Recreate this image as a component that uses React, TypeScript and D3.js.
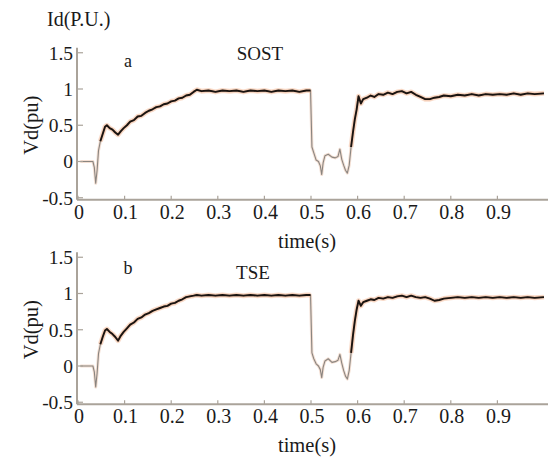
import React from "react";
import * as d3 from "d3";

const W = 548;
const H = 463;

const xTicks = [0, 0.1, 0.2, 0.3, 0.4, 0.5, 0.6, 0.7, 0.8, 0.9];
const xTickLabels = ["0", "0.1", "0.2", "0.3", "0.4", "0.5", "0.6", "0.7", "0.8", "0.9"];
const yTicks = [1.5, 1, 0.5, 0, -0.5];
const yTickLabels = ["1.5", "1", "0.5", "0", "-0.5"];

const timeA = [0.005, 0.032, 0.035, 0.038, 0.041, 0.044, 0.048, 0.053, 0.058, 0.062, 0.068, 0.074, 0.08, 0.086, 0.092, 0.098, 0.105, 0.112, 0.12, 0.128, 0.136, 0.144, 0.152, 0.16, 0.168, 0.176, 0.184, 0.192, 0.2, 0.208, 0.216, 0.224, 0.232, 0.24, 0.248, 0.255, 0.265, 0.28, 0.295, 0.31, 0.325, 0.34, 0.355, 0.37, 0.385, 0.4, 0.415, 0.43, 0.445, 0.46, 0.475, 0.49, 0.499, 0.502, 0.506, 0.511, 0.516, 0.52, 0.523, 0.526, 0.53, 0.537, 0.545, 0.552, 0.558, 0.562, 0.566, 0.57, 0.574, 0.578, 0.582, 0.586, 0.59, 0.594, 0.598, 0.602, 0.607, 0.612, 0.62, 0.628, 0.636, 0.645, 0.655, 0.665, 0.675, 0.685, 0.695, 0.705, 0.715, 0.725, 0.735, 0.745, 0.755, 0.765, 0.775, 0.785, 0.8, 0.815, 0.83, 0.845, 0.86, 0.875, 0.89, 0.905, 0.92, 0.935, 0.95, 0.965, 0.98, 1.0];
const vdSOST = [0, 0, -0.08, -0.3, -0.12, 0.15, 0.28, 0.38, 0.48, 0.5, 0.46, 0.44, 0.4, 0.37, 0.42, 0.46, 0.5, 0.55, 0.57, 0.62, 0.63, 0.67, 0.7, 0.72, 0.75, 0.76, 0.79, 0.8, 0.83, 0.84, 0.87, 0.88, 0.91, 0.92, 0.96, 0.99, 0.97, 0.98, 0.96, 0.98, 0.97, 0.98, 0.96, 0.98, 0.97, 0.98, 0.96, 0.98, 0.97, 0.98, 0.96, 0.98, 0.98, 0.2, 0.12, 0.02, 0.0, -0.06, -0.18, -0.02, 0.08, 0.1, 0.06, 0.05, 0.07, 0.17, 0.03, -0.05, -0.12, -0.16, -0.05, 0.2, 0.4, 0.58, 0.72, 0.9, 0.8, 0.86, 0.88, 0.91, 0.89, 0.93, 0.92, 0.95, 0.93, 0.96, 0.97, 0.94, 0.96, 0.92, 0.89, 0.86, 0.86, 0.88, 0.89, 0.91, 0.9, 0.92, 0.91, 0.93, 0.91, 0.93, 0.92, 0.93, 0.92, 0.94, 0.92, 0.94, 0.93, 0.94];
const vdTSE = [0, 0, -0.08, -0.29, -0.1, 0.17, 0.3, 0.4, 0.49, 0.51, 0.47, 0.44, 0.4, 0.35, 0.42, 0.47, 0.52, 0.57, 0.6, 0.65, 0.67, 0.71, 0.73, 0.76, 0.78, 0.8, 0.82, 0.83, 0.86, 0.87, 0.9, 0.92, 0.95, 0.96, 0.97, 0.98, 0.97, 0.98, 0.97, 0.98, 0.97, 0.98, 0.97, 0.98, 0.97, 0.98, 0.97, 0.98, 0.97, 0.98, 0.97, 0.98, 0.98, 0.18, 0.1, 0.03, 0.0, -0.05, -0.16, -0.02, 0.07, 0.1, 0.05, 0.06, 0.08, 0.16, 0.04, -0.06, -0.14, -0.18, -0.06, 0.18, 0.42, 0.62, 0.78, 0.9, 0.83, 0.88, 0.9, 0.92, 0.91, 0.94, 0.93, 0.95, 0.94, 0.96, 0.97, 0.95, 0.97, 0.95, 0.94, 0.95, 0.93, 0.9, 0.91, 0.93, 0.94, 0.95, 0.94, 0.95, 0.94, 0.95, 0.94, 0.95, 0.94, 0.95, 0.94, 0.95, 0.94, 0.95];

const panels = [
  { letter: "a", title: "SOST", values: vdSOST, zeroY: 161.5, letterY: 67, titleX: 260, titleY: 60 },
  { letter: "b", title: "TSE", values: vdTSE, zeroY: 366, letterY: 274, titleX: 253, titleY: 279 },
];

const FONT = "Liberation Serif, Times New Roman, DejaVu Serif, serif";
const AXIS = "#aaa39a";
const TXT = { fontFamily: FONT, fill: "#1a1a1a" };

const x = d3.scaleLinear().domain([0, 1]).range([78, 544]);

function Panel({ p }: { p: typeof panels[number] }) {
  const y = d3.scaleLinear().domain([0, 1]).range([p.zeroY, p.zeroY - 72.5]);
  const axisY = y(-0.5) + 2;
  const topY = y(1.5) - 5;
  const data = timeA.map((t, i) => [t, p.values[i]] as [number, number]);
  const line = d3.line<[number, number]>().x((d) => x(d[0])).y((d) => y(d[1]));
  const full = line(data) || "";
  const bold = line.defined((d) => d[0] >= 0.048 && !(d[0] > 0.5 && d[0] < 0.586))(data) || "";
  return (
    <g>
      <path d={full} fill="none" stroke="#e8c0a8" strokeOpacity={0.5} strokeWidth={3} strokeLinejoin="round" />
      <path d={full} fill="none" stroke="#8a8580" strokeWidth={1.1} strokeLinejoin="round" />
      <path d={bold} fill="none" stroke="#f0a77c" strokeOpacity={0.4} strokeWidth={5} strokeLinejoin="round" />
      <path d={bold} fill="none" stroke="#1a1411" strokeWidth={1.9} strokeLinejoin="round" />
      <line x1={x(0) - 1} x2={x(0) - 1} y1={topY} y2={axisY} stroke={AXIS} strokeWidth={2} />
      <line x1={x(0) - 1} x2={W} y1={axisY} y2={axisY} stroke={AXIS} strokeWidth={2} />
      {yTicks.map((v, i) => (
        <g key={"y" + i}>
          <line x1={x(0)} x2={x(0) + 5} y1={y(v)} y2={y(v)} stroke={AXIS} strokeWidth={1.2} />
          <text x={x(0) - 5} y={y(v)} dy="0.35em" textAnchor="end" fontSize={19.5} style={TXT}>
            {yTickLabels[i]}
          </text>
        </g>
      ))}
      {xTicks.map((v, i) => (
        <g key={"x" + i}>
          <line x1={x(v)} x2={x(v)} y1={axisY} y2={axisY - 4} stroke={AXIS} strokeWidth={1.2} />
          <text x={x(v) + 1} y={axisY + 19} textAnchor="middle" fontSize={20} style={TXT}>
            {xTickLabels[i]}
          </text>
        </g>
      ))}
      <text x={307} y={axisY + 48} textAnchor="middle" fontSize={20.5} style={TXT}>time(s)</text>
      <text transform={`translate(31, ${y(0.5)}) rotate(-90)`} textAnchor="middle" dy="0.35em" fontSize={20.5} style={TXT}>Vd(pu)</text>
      <text x={128} y={p.letterY} textAnchor="middle" fontSize={18} style={TXT}>{p.letter}</text>
      <text x={p.titleX} y={p.titleY} textAnchor="middle" fontSize={19} style={TXT}>{p.title}</text>
    </g>
  );
}

export default function App() {
  return (
    <svg width={W} height={H} style={{ position: "absolute", left: 0, top: 0, background: "#fff" }}>
      <rect width={W} height={H} fill="#fff" />
      <text x={47} y={26} fontSize={20} style={TXT}>Id(P.U.)</text>
      {panels.map((p, i) => (
        <Panel key={i} p={p} />
      ))}
    </svg>
  );
}
